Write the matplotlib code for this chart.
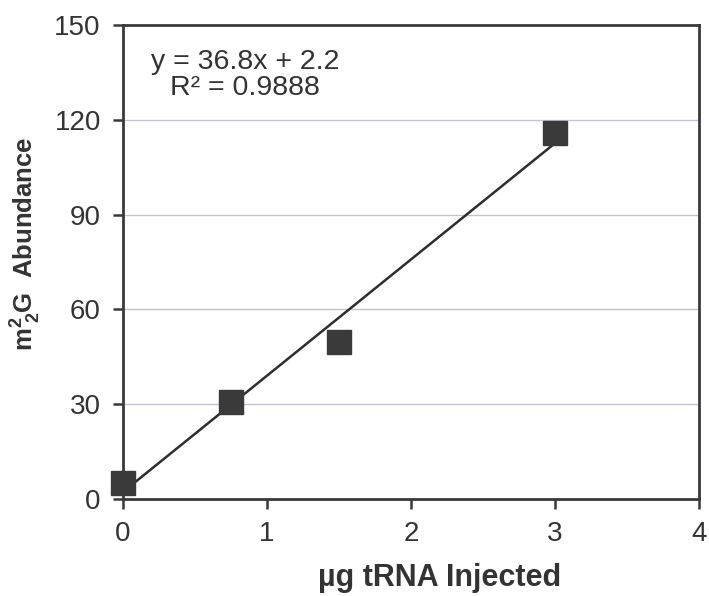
import numpy as np
import matplotlib
matplotlib.use("Agg")
import matplotlib.pyplot as plt

plt.rcParams['font.family'] = ['Liberation Sans', 'DejaVu Sans']
plt.rcParams['mathtext.fontset'] = 'custom'
plt.rcParams['mathtext.rm'] = 'Liberation Sans'
plt.rcParams['mathtext.bf'] = 'Liberation Sans:bold'

## -- data -- ##
trna_ug   = [0.0, 0.75, 1.5, 3.0]
abundance = [5.0, 30.8, 49.8, 115.8]
fit_slope = 36.8
fit_icept = 2.2
r_squared = 0.9888
x_ticks   = [0, 1, 2, 3, 4]
y_ticks   = [0, 30, 60, 90, 120, 150]

fig = plt.figure(figsize=(7.09, 5.96), dpi=100)
ax = fig.add_axes([0.1735, 0.163, 0.8125, 0.795])

xfit = np.array([trna_ug[0], trna_ug[-1]])
ax.plot(xfit, fit_slope * xfit + fit_icept, color="#2e2e2e", linewidth=1.8, zorder=3)
ax.plot(trna_ug, abundance, linestyle="none", marker="s", markersize=17.5,
        color="#3a3a3a", zorder=4, clip_on=False)

for yv in y_ticks[1:-1]:
    ax.axhline(yv, color="#c4c2d4", linewidth=1.0, zorder=1)

ax.set_xlim(0, 4)
ax.set_ylim(0, 150)
ax.set_xticks(x_ticks)
ax.set_yticks(y_ticks)
ax.tick_params(axis="both", direction="out", length=7, width=1.8,
               color="#3a3a3a", labelsize=20, labelcolor="#333333", pad=9)
for sp in ax.spines.values():
    sp.set_linewidth(2.0)
    sp.set_color("#3a3a3a")

# trendline equation, two centred lines
ax.text(0.847, 138.3, f"y = {fit_slope}x + {fit_icept}",
        ha="center", va="center", fontsize=20.5, color="#333333")
ax.text(0.847, 130.0, f"R² = {r_squared}",
        ha="center", va="center", fontsize=20.5, color="#333333")

ax.set_xlabel("µg tRNA Injected", fontsize=22, fontweight="bold", color="#333333")
ax.xaxis.set_label_coords(0.55, -0.135)
ax.set_ylabel(r"$\mathbf{m^2_{\;2}G}$  Abundance", fontsize=18.5, fontweight="bold",
              color="#333333")
ax.yaxis.set_label_coords(-0.139, 0.538)

fig.savefig("out.png", dpi=100)
